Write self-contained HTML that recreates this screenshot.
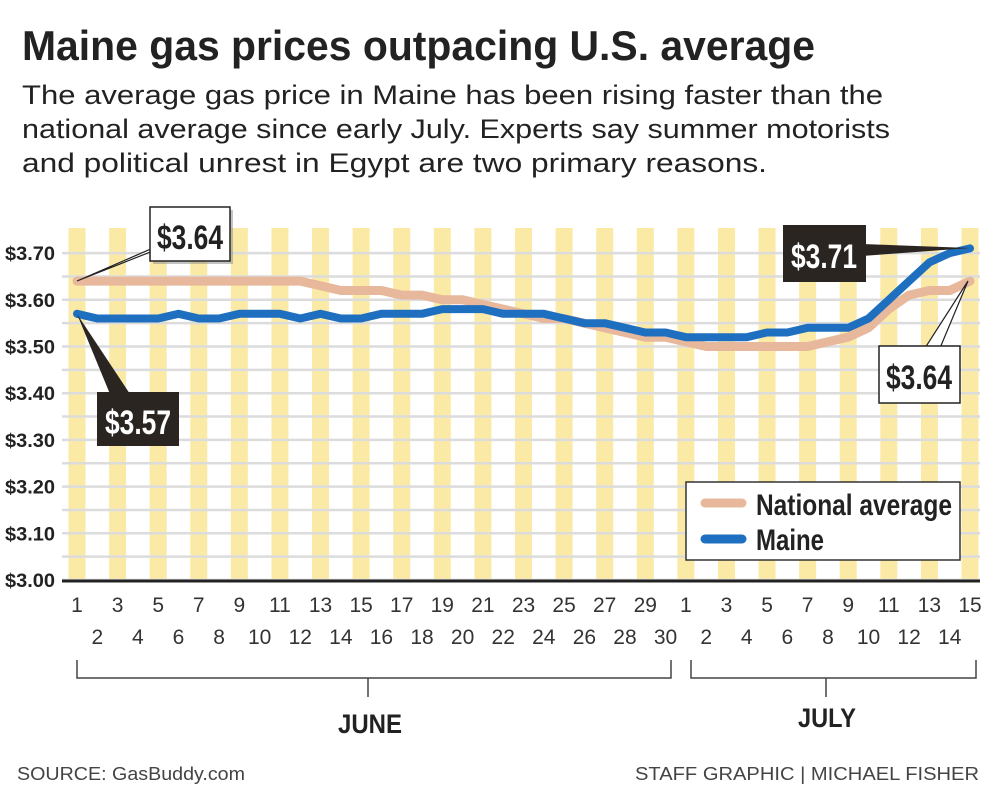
<!DOCTYPE html>
<html><head><meta charset="utf-8"><style>
html,body{margin:0;padding:0;background:#fff;}
svg{display:block;}
text{font-family:"Liberation Sans Narrow","Liberation Sans",sans-serif;}
</style></head><body>
<svg id="s" width="1000" height="802" viewBox="0 0 1000 802" xmlns="http://www.w3.org/2000/svg">
<g id="stripes"></g>
<g id="grid"></g>
<line x1="62" y1="581" x2="980" y2="581" stroke="#222" stroke-width="3"/>
<g id="ylab" font-size="19" fill="#222" font-weight="bold"></g>
<g id="xlab" font-size="21" fill="#333"></g>
<polyline id="nat" fill="none" stroke="#e8b89c" stroke-width="9" stroke-linecap="round" stroke-linejoin="round"/>
<polyline id="mai" fill="none" stroke="#1f6fc0" stroke-width="8" stroke-linecap="round" stroke-linejoin="round"/>
<!-- callouts -->
<polygon points="77,281 160,245 168,245" fill="#fff" stroke="#222" stroke-width="1.2"/>
<rect x="153" y="210" width="80" height="54" fill="#888" opacity="0.5"/>
<rect x="150" y="207" width="80" height="54" fill="#fff" stroke="#222" stroke-width="1.5"/>
<text x="190" y="249" font-size="34" font-weight="bold" text-anchor="middle" textLength="66" lengthAdjust="spacingAndGlyphs" fill="#222">$3.64</text>
<polygon points="77,314 110,394 130,394" fill="#2b2522"/>
<rect x="97" y="392" width="82" height="54" fill="#2b2522"/>
<text x="138" y="434" font-size="34" font-weight="bold" text-anchor="middle" textLength="66" lengthAdjust="spacingAndGlyphs" fill="#fff">$3.57</text>
<polygon points="970,248 862,244 862,256" fill="#2b2522"/>
<rect x="783" y="225" width="83" height="57" fill="#2b2522"/>
<text x="824" y="268" font-size="34" font-weight="bold" text-anchor="middle" textLength="66" lengthAdjust="spacingAndGlyphs" fill="#fff">$3.71</text>
<polygon points="968,281 925,348 940,348" fill="#fff" stroke="#222" stroke-width="1.2"/>
<rect x="879" y="346" width="81" height="57" fill="#fff" stroke="#222" stroke-width="1.5"/>
<text x="919" y="389" font-size="34" font-weight="bold" text-anchor="middle" textLength="66" lengthAdjust="spacingAndGlyphs" fill="#222">$3.64</text>
<!-- legend -->
<rect x="686" y="482" width="274" height="78" fill="#fff" stroke="#333" stroke-width="1.5"/>
<line x1="705" y1="503" x2="742" y2="503" stroke="#e8b89c" stroke-width="9" stroke-linecap="round"/>
<line x1="705" y1="539" x2="742" y2="539" stroke="#1f6fc0" stroke-width="9" stroke-linecap="round"/>
<text x="756" y="515" font-size="30" font-weight="bold" fill="#222" textLength="196" lengthAdjust="spacingAndGlyphs">National average</text>
<text x="756" y="550" font-size="30" font-weight="bold" fill="#222" textLength="68" lengthAdjust="spacingAndGlyphs">Maine</text>
<!-- brackets -->
<path d="M77,660 V678 H671 V660 M368,678 V697" fill="none" stroke="#444" stroke-width="1.5"/>
<path d="M691,660 V678 H976 V660 M826,678 V697" fill="none" stroke="#444" stroke-width="1.5"/>
<text x="370" y="733" font-size="27" font-weight="bold" fill="#222" text-anchor="middle" textLength="64" lengthAdjust="spacingAndGlyphs">JUNE</text>
<text x="827" y="727" font-size="27" font-weight="bold" fill="#222" text-anchor="middle" textLength="58" lengthAdjust="spacingAndGlyphs">JULY</text>
<text x="17" y="780" font-size="18" fill="#444" textLength="228" lengthAdjust="spacingAndGlyphs">SOURCE: GasBuddy.com</text>
<text x="635" y="780" font-size="18" fill="#444" textLength="344" lengthAdjust="spacingAndGlyphs">STAFF GRAPHIC | MICHAEL FISHER</text>
<!-- title -->
<text x="22" y="60" font-size="42" font-weight="bold" fill="#222" textLength="793" lengthAdjust="spacingAndGlyphs">Maine gas prices outpacing U.S. average</text>
<text x="22" y="104" font-size="27" fill="#222" textLength="861" lengthAdjust="spacingAndGlyphs">The average gas price in Maine has been rising faster than the</text>
<text x="22" y="138" font-size="27" fill="#222" textLength="868" lengthAdjust="spacingAndGlyphs">national average since early July. Experts say summer motorists</text>
<text x="22" y="172" font-size="27" fill="#222" textLength="745" lengthAdjust="spacingAndGlyphs">and political unrest in Egypt are two primary reasons.</text>
</svg>
<script>
var NS="http://www.w3.org/2000/svg";
function el(t,a,p,txt){var e=document.createElementNS(NS,t);for(var k in a)e.setAttribute(k,a[k]);if(txt!=null)e.textContent=txt;document.getElementById(p).appendChild(e);return e;}
function X(i){return 77+i*(893/44);}
function Y(v){return 580-(v-3)*467;}
for(var i=0;i<45;i+=2){el('rect',{x:X(i)-8.5,y:228,width:17,height:352,fill:'#fbeaa6'},'stripes');}
for(var k=0;k<15;k++){var y=580-k*23.35;el('line',{x1:62,x2:980,y1:y,y2:y,stroke:'#dcdcdc','stroke-width':2.5},'grid');}
for(var k=0;k<=7;k++){el('text',{x:5,y:Y(3+k/10)+7,textLength:50,lengthAdjust:'spacingAndGlyphs'},'ylab','$3.'+k+'0');}
for(var i=0;i<45;i++){var d=i<30?i+1:i-29;el('text',{x:X(i),y:(i%2==0)?612:644,'text-anchor':'middle'},'xlab',String(d));}
var nat=[3.64,3.64,3.64,3.64,3.64,3.64,3.64,3.64,3.64,3.64,3.64,3.64,3.63,3.62,3.62,3.62,3.61,3.61,3.60,3.60,3.59,3.58,3.57,3.56,3.56,3.55,3.54,3.53,3.52,3.52,3.51,3.50,3.50,3.50,3.50,3.50,3.50,3.51,3.52,3.54,3.58,3.61,3.62,3.62,3.64];
var mai=[3.57,3.56,3.56,3.56,3.56,3.57,3.56,3.56,3.57,3.57,3.57,3.56,3.57,3.56,3.56,3.57,3.57,3.57,3.58,3.58,3.58,3.57,3.57,3.57,3.56,3.55,3.55,3.54,3.53,3.53,3.52,3.52,3.52,3.52,3.53,3.53,3.54,3.54,3.54,3.56,3.60,3.64,3.68,3.70,3.71];
function pts(a){return a.map(function(v,i){return X(i).toFixed(1)+','+Y(v).toFixed(1);}).join(' ');}
document.getElementById('nat').setAttribute('points',pts(nat));
document.getElementById('mai').setAttribute('points',pts(mai));
</script>
</body></html>
